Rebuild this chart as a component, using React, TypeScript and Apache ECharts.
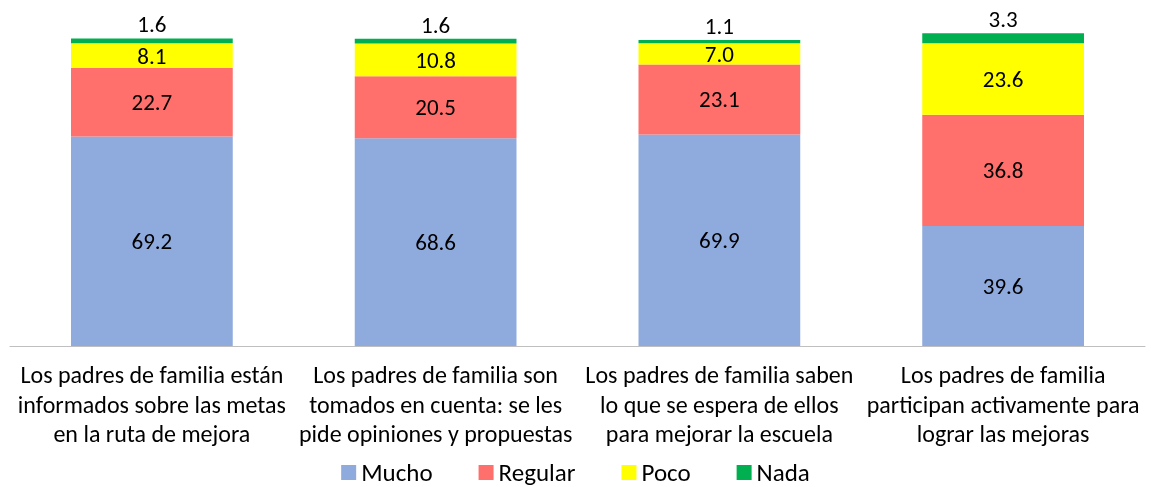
import React, { useEffect, useRef } from "react";
import * as echarts from "echarts";

const categories = [
  "Los padres de familia están\ninformados sobre las metas\nen la ruta de mejora",
  "Los padres de familia son\ntomados en cuenta: se les\npide opiniones y propuestas",
  "Los padres de familia saben\nlo que se espera de ellos\npara mejorar la escuela",
  "Los padres de familia\nparticipan activamente para\nlograr las mejoras",
];
const mucho = [69.2, 68.6, 69.9, 39.6];
const regular = [22.7, 20.5, 23.1, 36.8];
const poco = [8.1, 10.8, 7.0, 23.6];
const nada = [1.6, 1.6, 1.1, 3.3];

const FONT = "Carlito, Calibri, Lato, sans-serif";

export default function App() {
  const ref = useRef<HTMLDivElement>(null);
  useEffect(() => {
    if (!ref.current) return;
    const chart = echarts.init(ref.current, null, { renderer: "svg" });
    const inside = {
      show: true,
      position: "inside" as const,
      color: "#000",
      fontSize: 23,
      lineHeight: 20,
      fontFamily: FONT,
      formatter: (p: any) => p.value.toFixed(1),
    };
    chart.setOption({
      animation: false,
      textStyle: { fontFamily: FONT },
      grid: { left: 10, right: 6, top: 13, height: 333 },
      legend: {
        top: 460,
        padding: 0,
        left: "center",
        itemWidth: 15,
        itemHeight: 15,
        itemGap: 46,
        icon: "rect",
        textStyle: { fontSize: 25, lineHeight: 25, color: "#000", fontFamily: FONT },
        data: ["Mucho", "Regular", "Poco", "Nada"],
      },
      xAxis: {
        type: "category",
        data: categories,
        axisLine: { lineStyle: { color: "#BFBFBF", width: 1 } },
        axisTick: { show: false },
        axisLabel: {
          interval: 0,
          color: "#000",
          fontSize: 24,
          lineHeight: 29.5,
          margin: 14,
          fontFamily: FONT,
        },
      },
      yAxis: {
        type: "value",
        min: 0,
        max: 110,
        show: false,
        splitLine: { show: false },
      },
      series: [
        { name: "Mucho", type: "bar", stack: "s", data: mucho, barWidth: "57%", itemStyle: { color: "#8FAADC" }, label: inside },
        { name: "Regular", type: "bar", stack: "s", data: regular, itemStyle: { color: "#FF6F6B" }, label: inside },
        { name: "Poco", type: "bar", stack: "s", data: poco, itemStyle: { color: "#FFFF00" }, label: inside },
        {
          name: "Nada",
          type: "bar",
          stack: "s",
          data: nada,
          itemStyle: { color: "#00B050" },
          label: { ...inside, position: "top", distance: 4 },
        },
      ],
    });
    return () => chart.dispose();
  }, []);
  return (
    <div
      ref={ref}
      style={{ position: "fixed", left: 0, top: 0, width: 1151, height: 487 }}
    />
  );
}
